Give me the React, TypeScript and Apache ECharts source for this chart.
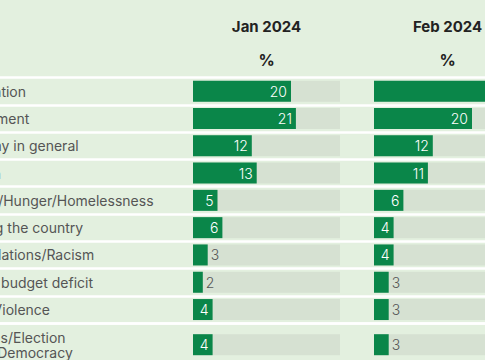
import React, { useEffect, useRef } from "react";
import * as echarts from "echarts";

const categories = [
  "Immigration",
  "Government",
  "Economy in general",
  "Inflation",
  "Poverty/Hunger/Homelessness",
  "Unifying the country",
  "Race relations/Racism",
  "Federal budget deficit",
  "Crime/Violence",
  "Elections/Election\nreform/Democracy",
];
const janValues = [20, 21, 12, 13, 5, 6, 3, 2, 4, 4];
const febValues = [28, 20, 12, 11, 6, 4, 4, 3, 3, 3];
const columnTitles = ["Jan 2024", "Feb 2024"];
const unitLabel = "%";
const columnValues = [janValues, febValues];

export default function App() {
  const ref = useRef<HTMLDivElement>(null);
  useEffect(() => {
    const chart = echarts.init(ref.current!, null, { renderer: "svg" });
    const font = "Inter, 'Noto Sans', sans-serif";
    const colLefts = [193, 374];
    const trackW = 147;
    const mainTop = 77.5;
    const mainRows = 9;
    const rowH = 27.3;
    const mainH = mainRows * rowH;
    const lastTop = mainTop + mainH;
    const lastH = 43;
    const green = "#0a8649";
    const track = "#d6e1d2";

    const grids: any[] = [];
    const xAxes: any[] = [];
    const yAxes: any[] = [];
    const series: any[] = [];
    const titles: any[] = [];

    const mainCats = categories.slice(0, mainRows);
    const lastCats = categories.slice(mainRows);

    [
      { top: mainTop, height: mainH, cats: mainCats },
      { top: lastTop, height: lastH, cats: lastCats },
    ].forEach((g) => {
      const idx = grids.length;
      grids.push({
        left: 0,
        width: 485,
        top: g.top,
        height: g.height,
        containLabel: false,
        outerBoundsMode: "none",
      });
      xAxes.push({ gridIndex: idx, type: "value", min: 0, max: 1, show: false });
      yAxes.push({
        gridIndex: idx,
        type: "category",
        inverse: true,
        data: g.cats,
        axisLine: { show: false },
        axisTick: { show: false },
        axisLabel: {
          align: "left",
          margin: 52,
          color: "#555",
          fontSize: 14,
          lineHeight: 15,
          fontFamily: font,
          overflow: "none",
        },
        splitLine: { show: true, lineStyle: { color: "#ffffff", width: 2.5 } },
      });
    });

    const labelFor = (v: number) =>
      v >= 4
        ? { show: true, position: "insideRight", distance: 4, color: "#ffffff", fontSize: 14, fontWeight: 300, fontFamily: font }
        : { show: true, position: "right", distance: 3, color: "#555", fontSize: 14, fontWeight: 300, fontFamily: font };

    columnValues.forEach((vals, c) => {
      const left = colLefts[c];
      titles.push({
        text: columnTitles[c],
        left: left + trackW / 2,
        top: 19,
        textAlign: "center",
        padding: 0,
        textStyle: { fontSize: 15, fontWeight: "bold", color: "#222", fontFamily: font },
      });
      titles.push({
        text: unitLabel,
        left: left + trackW / 2,
        top: 52,
        textAlign: "center",
        padding: 0,
        textStyle: { fontSize: 16, fontWeight: "bold", color: "#222", fontFamily: font },
      });
      [
        { top: mainTop, height: mainH, cats: mainCats, data: vals.slice(0, mainRows) },
        { top: lastTop, height: lastH, cats: lastCats, data: vals.slice(mainRows) },
      ].forEach((g) => {
        const idx = grids.length;
        grids.push({
          left,
          width: trackW,
          top: g.top,
          height: g.height,
          containLabel: false,
          outerBoundsMode: "none",
        });
        xAxes.push({ gridIndex: idx, type: "value", min: 0, max: 30, show: false });
        yAxes.push({ gridIndex: idx, type: "category", inverse: true, data: g.cats, show: false });
        series.push({
          type: "bar",
          xAxisIndex: idx,
          yAxisIndex: idx,
          barWidth: 21,
          showBackground: true,
          backgroundStyle: { color: track },
          itemStyle: { color: green },
          data: g.data.map((v) => ({ value: v, label: labelFor(v) })),
        });
      });
    });

    chart.setOption({
      animation: false,
      backgroundColor: "#e3f0df",
      title: titles,
      grid: grids,
      xAxis: xAxes,
      yAxis: yAxes,
      series,
    });
    return () => chart.dispose();
  }, []);
  return (
    <div
      ref={ref}
      style={{ position: "fixed", left: 0, top: 0, width: 485, height: 360 }}
    />
  );
}
